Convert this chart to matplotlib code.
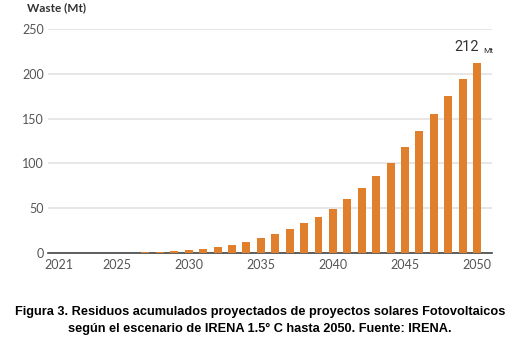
import matplotlib.pyplot as plt

# Cumulative PV waste, IRENA 1.5 C scenario (Mt)
years = list(range(2021, 2051))
waste = [0, 0, 0, 0, 0, 0.3, 1, 1.5, 2.5, 3.5, 5, 7, 9, 12, 17,
         21, 26.5, 33, 40.5, 49.5, 60, 72, 86, 101, 118,
         136, 155, 175, 194, 212]
xticks = [2021, 2025, 2030, 2035, 2040, 2045, 2050]
yticks = [0, 50, 100, 150, 200, 250]

BAR = '#E07F2C'
GRID = '#e3e3e3'
TXT = '#555555'

fig = plt.figure(figsize=(5.2, 3.42), dpi=100)
ax = fig.add_axes([0.0923, 0.2602, 0.854, 0.655])

ax.bar(years, waste, width=0.55, color=BAR, zorder=3)
ax.set_xlim(2020.24, 2051.04)
ax.set_ylim(0, 250)
ax.set_yticks(yticks)
ax.set_xticks(xticks)
ax.yaxis.grid(True, color=GRID, linewidth=1.2, zorder=0)
for s in ['top', 'right', 'left']:
    ax.spines[s].set_visible(False)
ax.spines['bottom'].set_color('#444444')
ax.spines['bottom'].set_linewidth(1.2)
ax.tick_params(axis='both', length=0, labelsize=9, labelcolor=TXT)
ax.tick_params(axis='y', pad=3)
ax.tick_params(axis='x', pad=4)
for lbl in ax.get_xticklabels() + ax.get_yticklabels():
    lbl.set_family('Lato')

fig.text(27 / 520, 1 - 8 / 342, 'Waste (Mt)', fontsize=8.5, fontweight='bold',
         color='#333333', family='Lato', va='center')

# end label
ax.text(years[-1] + 0.15, waste[-1] + 10, '212', fontsize=10.5, color='#333333',
        family='Roboto', ha='right', va='bottom')
ax.text(years[-1] + 0.45, waste[-1] + 10, 'Mt', fontsize=6, color='#333333',
        family='Roboto', ha='left', va='bottom')

fig.text(0.5, 1 - 312 / 342,
         'Figura 3. Residuos acumulados proyectados de proyectos solares Fotovoltaicos',
         ha='center', va='center', fontsize=9.2, fontweight='bold',
         family='Liberation Sans')
fig.text(0.5, 1 - 329 / 342,
         'según el escenario de IRENA 1.5° C hasta 2050. Fuente: IRENA.',
         ha='center', va='center', fontsize=9.2, fontweight='bold',
         family='Liberation Sans')

fig.savefig('out.png', dpi=100)
